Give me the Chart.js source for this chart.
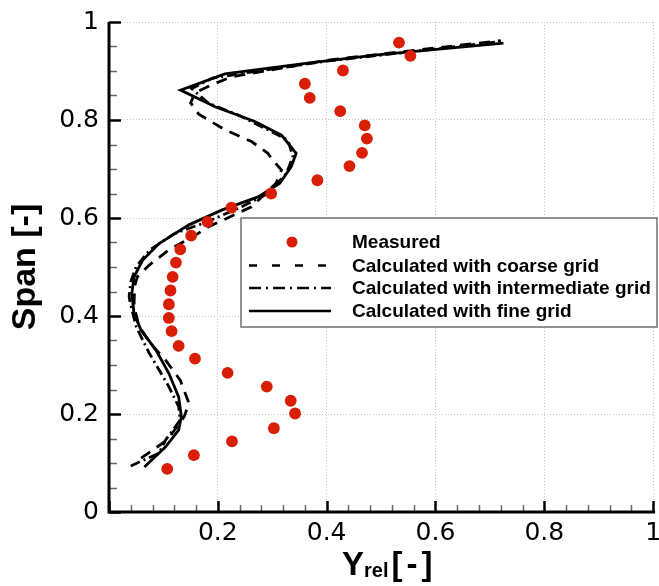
<!DOCTYPE html>
<html>
<head>
<meta charset="utf-8">
<script src="https://cdn.jsdelivr.net/npm/chart.js@4.4.1/dist/chart.umd.min.js"></script>
<style>
  html, body { margin: 0; padding: 0; background: #fff; }
  #wrap { width: 659px; height: 586px; }
</style>
</head>
<body>
<div id="wrap"><canvas id="spanChart" width="659" height="586"></canvas></div>
<script>
// Y_rel along the span: measured points and three grid levels

const measuredX = [0.107, 0.156, 0.226, 0.303, 0.342, 0.334, 0.290, 0.218, 0.158, 0.128, 0.115,
  0.110, 0.110, 0.113, 0.117, 0.123, 0.131, 0.151, 0.181, 0.225, 0.298, 0.383, 0.442, 0.465,
  0.474, 0.470, 0.425, 0.369, 0.360, 0.430, 0.554, 0.533];
const measuredY = [0.088, 0.116, 0.144, 0.171, 0.201, 0.227, 0.256, 0.284, 0.313, 0.339, 0.369,
  0.396, 0.424, 0.452, 0.480, 0.509, 0.536, 0.564, 0.592, 0.621, 0.650, 0.677, 0.706, 0.733,
  0.762, 0.789, 0.818, 0.845, 0.874, 0.901, 0.931, 0.958];

const coarseX = [0.059, 0.107, 0.138, 0.147, 0.131, 0.104, 0.075, 0.055, 0.046, 0.047, 0.052,
  0.074, 0.110, 0.159, 0.183, 0.262, 0.307, 0.317, 0.301, 0.292, 0.262, 0.213, 0.165, 0.150,
  0.158, 0.185, 0.225, 0.400, 0.720];
const coarseY = [0.110, 0.147, 0.194, 0.222, 0.269, 0.310, 0.345, 0.380, 0.420, 0.460, 0.480,
  0.504, 0.535, 0.565, 0.582, 0.623, 0.671, 0.698, 0.718, 0.732, 0.756, 0.780, 0.812, 0.835,
  0.855, 0.870, 0.888, 0.922, 0.962];

const interX = [0.040, 0.092, 0.104, 0.131, 0.128, 0.110, 0.074, 0.050, 0.039, 0.037, 0.040,
  0.050, 0.075, 0.120, 0.180, 0.244, 0.292, 0.326, 0.338, 0.329, 0.292, 0.238, 0.183, 0.152,
  0.189, 0.244, 0.400, 0.720];
const interY = [0.094, 0.120, 0.147, 0.188, 0.215, 0.256, 0.324, 0.378, 0.426, 0.440, 0.470,
  0.501, 0.535, 0.568, 0.592, 0.623, 0.650, 0.691, 0.725, 0.759, 0.780, 0.810, 0.834, 0.864,
  0.885, 0.895, 0.920, 0.960];

const fineX = [0.065, 0.104, 0.128, 0.133, 0.128, 0.110, 0.086, 0.059, 0.046, 0.042, 0.046,
  0.062, 0.092, 0.147, 0.207, 0.274, 0.314, 0.335, 0.344, 0.317, 0.268, 0.195, 0.1315, 0.213,
  0.365, 0.493, 0.725];
const fineY = [0.092, 0.133, 0.167, 0.195, 0.235, 0.283, 0.331, 0.371, 0.405, 0.446, 0.480,
  0.514, 0.548, 0.586, 0.616, 0.643, 0.671, 0.705, 0.732, 0.769, 0.797, 0.827, 0.861, 0.894,
  0.916, 0.933, 0.957];

const seriesNames = ['Measured', 'Calculated with coarse grid',
  'Calculated with intermediate grid', 'Calculated with fine grid'];
const majorTicks = [0, 0.2, 0.4, 0.6, 0.8, 1];

const red = '#d91e06';

function pts(xs, ys) {
  return xs.map((x, i) => ({ x: x, y: ys[i] }));
}

function fmt(v) {
  return String(+v.toFixed(2));
}

// axis lines + inward ticks, x title with subscript, boxed legend
const frame = {
  id: 'frame',
  afterDatasetsDraw(chart) {
    const ctx = chart.ctx;
    const a = chart.chartArea;
    const xs = chart.scales.x, ys = chart.scales.y;
    ctx.save();

    // y ticks every 0.05
    for (let i = 0; i <= 20; i++) {
      const py = Math.round(ys.getPixelForValue(i * 0.05)) + 0.5;
      const major = i % 4 === 0;
      ctx.beginPath();
      ctx.strokeStyle = major ? '#000' : '#666';
      ctx.lineWidth = major ? 2.5 : 1.5;
      ctx.moveTo(a.left, py);
      ctx.lineTo(a.left + (major ? 12 : 8), py);
      ctx.stroke();
    }
    // x ticks every 0.04
    for (let i = 0; i <= 25; i++) {
      const px = Math.round(xs.getPixelForValue(i * 0.04)) + 0.5;
      const major = i % 5 === 0;
      ctx.beginPath();
      ctx.strokeStyle = major ? '#000' : '#666';
      ctx.lineWidth = major ? 2.5 : 1.5;
      ctx.moveTo(px, a.bottom);
      ctx.lineTo(px, a.bottom - (major ? 11 : 7));
      ctx.stroke();
    }

    ctx.beginPath();
    ctx.strokeStyle = '#000';
    ctx.lineWidth = 3;
    ctx.moveTo(a.left, a.top);
    ctx.lineTo(a.left, a.bottom);
    ctx.lineTo(a.right + 2, a.bottom);
    ctx.stroke();

    // x title: Y_rel [-]
    ctx.fillStyle = '#000';
    ctx.textBaseline = 'alphabetic';
    ctx.textAlign = 'left';
    let tx = 342, base = 575;
    ctx.font = 'bold 33px "Liberation Sans", Arial, sans-serif';
    ctx.fillText('Y', tx, base);
    tx += ctx.measureText('Y').width;
    ctx.font = 'bold 20px "Liberation Sans", Arial, sans-serif';
    ctx.fillText('rel', tx, base + 2);
    tx += ctx.measureText('rel').width + 3;
    ctx.font = 'bold 33px "Liberation Sans", Arial, sans-serif';
    if ('letterSpacing' in ctx) ctx.letterSpacing = '4px';
    ctx.fillText('[-]', tx, base);
    if ('letterSpacing' in ctx) ctx.letterSpacing = '0px';

    // legend
    const bx = 241, by = 218, bw = 416, bh = 109;
    ctx.fillStyle = '#fff';
    ctx.fillRect(bx, by, bw, bh);
    ctx.strokeStyle = '#6e6e6e';
    ctx.lineWidth = 1.5;
    ctx.strokeRect(bx, by, bw, bh);

    const rows = [242, 265.5, 288, 311];
    const dashes = [null, [8, 15], [12, 5, 2, 5], []];
    const ds = chart.data.datasets;
    ctx.font = 'bold 19px "Liberation Sans", Arial, sans-serif';
    ctx.textBaseline = 'middle';
    for (let i = 0; i < ds.length; i++) {
      const ry = rows[i];
      if (i === 0) {
        ctx.beginPath();
        ctx.fillStyle = red;
        ctx.arc(292, ry, 5.5, 0, Math.PI * 2);
        ctx.fill();
      } else {
        ctx.beginPath();
        ctx.setLineDash(dashes[i]);
        ctx.strokeStyle = '#000';
        ctx.lineWidth = 2.7;
        ctx.moveTo(249, ry);
        ctx.lineTo(331, ry);
        ctx.stroke();
        ctx.setLineDash([]);
      }
      ctx.fillStyle = '#000';
      ctx.fillText(ds[i].label, 352, ry + 1);
    }
    ctx.restore();
  }
};

const lineBase = {
  showLine: true,
  pointRadius: 0,
  pointHoverRadius: 0,
  borderColor: '#000',
  backgroundColor: '#000',
  borderWidth: 2.8,
  tension: 0,
  fill: false
};

const data = {
  datasets: [
    {
      label: seriesNames[0],
      data: pts(measuredX, measuredY),
      showLine: false,
      pointRadius: 5.9,
      pointBackgroundColor: red,
      pointBorderColor: red,
      pointBorderWidth: 0
    },
    Object.assign({}, lineBase, {
      label: seriesNames[1],
      data: pts(coarseX, coarseY),
      borderDash: [11, 8]
    }),
    Object.assign({}, lineBase, {
      label: seriesNames[2],
      data: pts(interX, interY),
      borderDash: [10, 4, 2, 4]
    }),
    Object.assign({}, lineBase, {
      label: seriesNames[3],
      data: pts(fineX, fineY)
    })
  ]
};

const tickFont = { family: '"DejaVu Sans", sans-serif', size: 25 };

const config = {
  type: 'scatter',
  data: data,
  plugins: [frame],
  options: {
    responsive: false,
    animation: false,
    devicePixelRatio: 1,
    layout: { padding: { top: 22, right: 1, left: 0, bottom: 0 } },
    plugins: {
      legend: { display: false },
      tooltip: { enabled: false }
    },
    scales: {
      x: {
        type: 'linear',
        min: 0,
        max: 1,
        afterBuildTicks: s => { s.ticks = majorTicks.map(v => ({ value: v })); },
        afterFit: s => { s.height = 74; s.paddingLeft = 0; s.paddingRight = 0; },
        ticks: {
          font: tickFont,
          color: '#000',
          padding: 6,
          maxRotation: 0,
          autoSkip: false,
          callback: v => (v === 0 ? '' : fmt(v))
        },
        grid: { color: '#c4c4c4', lineWidth: 1, drawTicks: false },
        border: { display: false, dash: [1, 2] }
      },
      y: {
        type: 'linear',
        min: 0,
        max: 1,
        afterBuildTicks: s => { s.ticks = majorTicks.map(v => ({ value: v })); },
        afterFit: s => { s.width = 109; s.paddingTop = 0; s.paddingBottom = 0; },
        ticks: {
          font: tickFont,
          color: '#000',
          padding: 10,
          autoSkip: false,
          callback: v => fmt(v)
        },
        grid: { color: '#c4c4c4', lineWidth: 1, drawTicks: false },
        border: { display: false, dash: [1, 2] },
        title: {
          display: true,
          text: 'Span [-]',
          color: '#000',
          font: { family: '"Liberation Sans", Arial, sans-serif', size: 34, weight: 'bold' },
          padding: { top: 5, bottom: 0 }
        }
      }
    }
  }
};

const spanChart = new Chart(document.getElementById('spanChart'), config);
</script>
</body>
</html>
